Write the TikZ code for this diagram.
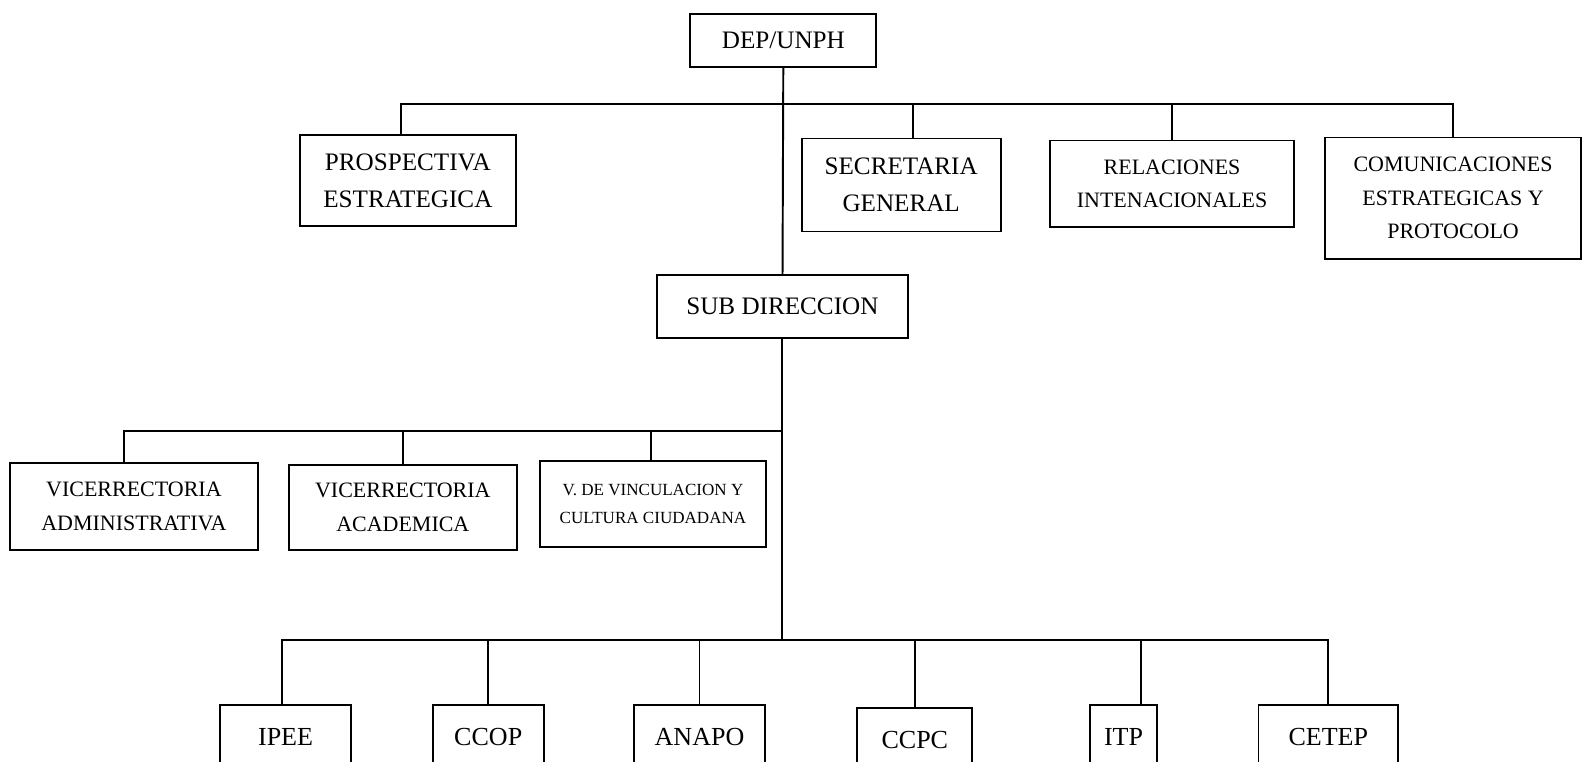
\documentclass[tikz,border=0pt]{standalone}
\usepackage{fontspec}
\setmainfont{Liberation Serif}
\usetikzlibrary{calc}
\newdimen\unitpx
\unitpx=0.0202cm

\tikzset{
  orgbox/.style={draw, line width=1.1pt, align=center, inner sep=0pt,
    font=\fontsize{14.3}{21}\selectfont},
  midtext/.style={font=\fontsize{12.5}{19}\selectfont},
  smalltext/.style={font=\fontsize{9.7}{16}\selectfont},
  bottext/.style={font=\fontsize{14.8}{18}\selectfont},
  dims/.style 2 args={minimum width=#1\unitpx, minimum height=#2\unitpx},
  link/.style={line width=1.1pt}
}

\begin{document}
\begin{tikzpicture}[x=\unitpx, y=-\unitpx]
    \useasboundingbox (0,0) rectangle (1568,753);

    \node[orgbox, dims={184}{52}] (dep) at (775,40) {DEP/UNPH};
    \node[orgbox, dims={213}{90}] (prosp) at (403.5,179) {PROSPECTIVA\\ESTRATEGICA};
    \node[orgbox, dims={197}{92}] (secre) at (891.5,183) {SECRETARIA\\GENERAL};
    \node[orgbox, midtext, dims={241}{86}] (relac) at (1159.5,182) {RELACIONES\\INTENACIONALES};
    \node[orgbox, midtext, dims={253}{120}] (comun) at (1437.5,196) {COMUNICACIONES\\ESTRATEGICAS Y\\PROTOCOLO};
    \node[orgbox, dims={248}{62}] (subdir) at (774,303) {SUB DIRECCION};

    \node[orgbox, midtext, dims={245}{86}] (vadmin) at (132.5,501) {VICERRECTORIA\\ADMINISTRATIVA};
    \node[orgbox, midtext, dims={225}{84}] (vacad) at (398.5,502) {VICERRECTORIA\\ACADEMICA};
    \node[orgbox, smalltext, dims={224}{85}] (vvinc) at (646,498.5) {V. DE VINCULACION Y\\CULTURA CIUDADANA};

    \node[orgbox, bottext, dims={129}{64}] (ipee) at (282.5,729) {IPEE};
    \node[orgbox, bottext, dims={110}{64}] (ccop) at (483,729) {CCOP};
    \node[orgbox, bottext, dims={130}{64}] (anapo) at (692,729) {ANAPO};
    \node[orgbox, bottext, dims={114}{64}] (ccpc) at (905,732) {CCPC};
    \node[orgbox, bottext, dims={67}{64}] (itp) at (1111.5,729) {ITP};
    \node[orgbox, bottext, dims={138}{64}] (cetep) at (1314,729) {CETEP};

    \coordinate (hub1) at (774,103);
    \coordinate (hub2) at (774,426);
    \coordinate (hub3) at (774,633);

    \draw[link] (dep) -- (subdir);
    \draw[link] (subdir) -- (hub3);

    \draw[link] ($(prosp.north west)!0.47!(prosp.north east)$) |- (hub1);
    \draw[link] ($(secre.north west)!0.56!(secre.north east)$) |- (hub1);
    \draw[link] (relac.north) |- (hub1);
    \draw[link] (comun.north) |- (hub1);

    \draw[link] ($(vadmin.north west)!0.46!(vadmin.north east)$) |- (hub2);
    \draw[link] (vacad.north) |- (hub2);
    \draw[link] ($(vvinc.north west)!0.49!(vvinc.north east)$) |- (hub2);

    \draw[link] ($(ipee.north west)!0.47!(ipee.north east)$) |- (hub3);
    \draw[link] (ccop.north) |- (hub3);
    \draw[link] (anapo.north) |- (hub3);
    \draw[link] (ccpc.north) |- (hub3);
    \draw[link] ($(itp.north west)!0.75!(itp.north east)$) |- (hub3);
    \draw[link] (cetep.north) |- (hub3);
  \end{tikzpicture}
\end{document}
